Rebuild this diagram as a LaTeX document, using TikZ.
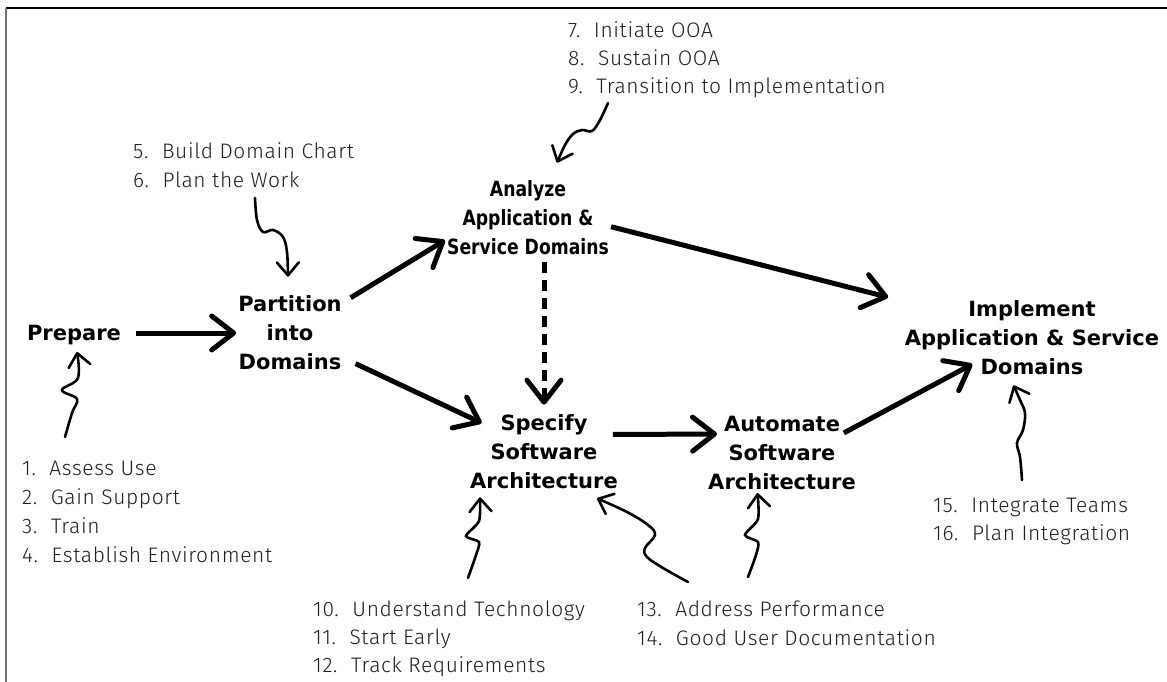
\documentclass[tikz,border=0pt]{standalone}
\usepackage{fontspec}
\setmainfont{DejaVu Sans}
\newfontfamily\itemfont{Fira Sans Light}[LetterSpace=3]
\newfontfamily\narrowfont{DejaVu Sans}[FakeStretch=0.82]
\usetikzlibrary{arrows.meta,calc}

\tikzset{
  stage/.style={align=center, inner sep=2pt, font=\fontsize{21}{29}\selectfont\bfseries},
  item/.style={anchor=base west, inner sep=0pt, text=black!88, font=\itemfont\fontsize{21}{28}\selectfont},
  flow/.style={line width=5pt, -{Straight Barb[length=22pt,width=34pt,round]}},
  hint/.style={line width=2.6pt, line cap=round, -{Straight Barb[length=13pt,width=22pt,round]}}
}

\begin{document}
\begin{tikzpicture}[x=1pt,y=-1pt]
  \useasboundingbox (0,0) rectangle (1167,682);

  % frame
  \draw[line width=1.6pt] (6,8) -- (1167,8);
  \draw[line width=1.4pt, black!55] (6,8) -- (6,682);

  % stages
  \node[stage] (prep) at (74,335.5) {Prepare};
  \node[stage] (part) at (290,333) {Partition\\into\\Domains};
  \node[stage, font=\narrowfont\fontsize{21}{29}\selectfont\bfseries] (ana) at (528,218) {Analyze\\Application \&\\Service Domains};
  \node[stage] (spec) at (544,452) {Specify\\Software\\Architecture};
  \node[stage] (autom) at (782,453) {Automate\\Software\\Architecture};
  \node[stage] (impl) at (1032,338) {Implement\\Application \& Service\\Domains};

  % activities
  \foreach \n/\t in {1/Assess Use, 2/Gain Support, 3/Train, 4/Establish Environment}
    \node[item] (act\n) at (22,{475+29*(\n-1)}) {\n.\hspace{.65em}\t};
  \foreach \n/\t in {5/Build Domain Chart, 6/Plan the Work}
    \node[item] (act\n) at (133,{158+29*(\n-5)}) {\n.\hspace{.65em}\t};
  \foreach \n/\t in {7/Initiate OOA, 8/Sustain OOA, 9/Transition to Implementation}
    \node[item] (act\n) at (568,{38+28*(\n-7)}) {\n.\hspace{.65em}\t};
  \foreach \n/\t in {10/Understand Technology, 11/Start Early, 12/Track Requirements}
    \node[item] (act\n) at (313,{616+28*(\n-10)}) {\n.\hspace{.65em}\t};
  \foreach \n/\t in {13/Address Performance, 14/Good User Documentation}
    \node[item] (act\n) at (637,{616+29*(\n-13)}) {\n.\hspace{.65em}\t};
  \foreach \n/\t in {15/Integrate Teams, 16/Plan Integration}
    \node[item] (act\n) at (933,{512+28*(\n-15)}) {\n.\hspace{.65em}\t};

  % main flow
  \draw[flow, shorten <=13pt] (prep.east |- part.west) -- (part.west);
  \draw[flow, shorten <=8pt] (part.30) -- (ana.195);
  \draw[flow, shorten <=13pt, shorten >=-15pt] (part.-25) -- (spec.155);
  \draw[flow, shorten >=15pt] (ana.-6) -- (impl.164);
  \draw[flow, dash pattern=on 11pt off 7pt, shorten <=5pt, shorten >=8pt] (spec |- ana.south) -- (spec.north);
  \draw[flow, shorten <=-7pt, shorten >=-11pt] (spec.13) -- (autom.166);
  \draw[flow, shorten <=-16pt, shorten >=-28pt] (autom.20) -- (impl.205);

  % hints from the activities
  \coordinate (q1) at (65,437);
  \coordinate (q2) at (255,198);
  \coordinate (q3) at (608,103);
  \coordinate (q4) at (468,578);
  \coordinate (q5) at (688,582);
  \coordinate (q6) at (748,577);
  \coordinate (q7) at (1022,480);
  \coordinate (t1) at ($(prep.south)+(3,4.4)$);
  \coordinate (t2) at ($(part.north)+(-2,-17)$);
  \coordinate (t3) at ($(ana.north)+(29,-16)$);
  \coordinate (t4) at ($(spec.south)+(-64,6)$);
  \coordinate (t5) at ($(spec.south)+(53,7)$);
  \coordinate (t6) at ($(autom.south)+(-24.5,1)$);
  \coordinate (t7) at ($(impl.south)+(-18.5,8)$);

  \draw[hint] plot[smooth, tension=0.6] coordinates {(q1) (72,413) (77,399) (62,390) (78,378) (t1)};
  \draw[hint] plot[smooth, tension=0.6] coordinates {(q2) (257,220) (263,232) (273,230) (283,237) (287,252) (t2)};
  \draw[hint] plot[smooth, tension=0.6] coordinates {(q3) (600,120) (592,131) (582,130) (573,134) (565,145) (t3)};
  \draw[hint] plot[smooth, tension=0.45] coordinates {(q4) (476,555) (479,542) (466,536) (479,521) (t4)};
  \draw[hint] plot[smooth, tension=0.6] coordinates {(q5) (663,568) (647,557) (645,548) (655,535) (648,525) (627,512) (t5)};
  \draw[hint] plot[smooth, tension=0.45] coordinates {(q6) (756,555) (758,542) (745,535) (758,519) (t6)};
  \draw[hint] plot[smooth, tension=0.6] coordinates {(q7) (1020,457) (1017,443) (1023,430) (1025,413) (1020,400) (t7)};
\end{tikzpicture}
\end{document}
